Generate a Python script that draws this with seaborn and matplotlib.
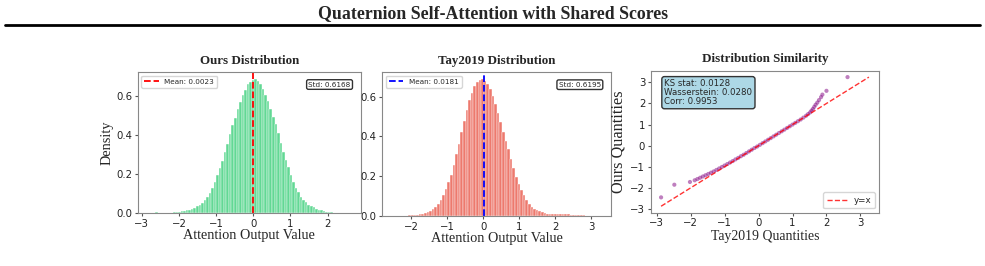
import numpy as np
import pandas as pd
import seaborn as sns
import matplotlib.pyplot as plt
from matplotlib.lines import Line2D
from matplotlib.ticker import MultipleLocator

# histogram densities (80 equal bins over each range)
ours_range = (-2.84, 2.62)
ours_density = [
    0.003, 0.004, 0.004, 0.005, 0.004, 0.004, 0.003, 0.003, 0.003, 0.004,
    0.005, 0.006, 0.008, 0.010, 0.012, 0.015, 0.019, 0.024, 0.029, 0.036,
    0.044, 0.055, 0.067, 0.084, 0.105, 0.130, 0.158, 0.194, 0.232, 0.270,
    0.312, 0.357, 0.405, 0.450, 0.490, 0.535, 0.570, 0.606, 0.633, 0.660,
    0.674, 0.682, 0.687, 0.678, 0.660, 0.636, 0.608, 0.573, 0.535, 0.495,
    0.455, 0.410, 0.362, 0.316, 0.275, 0.235, 0.197, 0.160, 0.130, 0.107,
    0.085, 0.069, 0.056, 0.045, 0.037, 0.030, 0.024, 0.019, 0.015, 0.012,
    0.009, 0.007, 0.005, 0.004, 0.003, 0.002, 0.002, 0.001, 0.001, 0.001,
]
ours_mean = 0.0023
ours_std = 0.6168

tay_range = (-2.517, 3.267)
tay_density = [
    0.0005, 0.001, 0.001, 0.001, 0.002, 0.002, 0.003, 0.003, 0.004, 0.006,
    0.009, 0.012, 0.015, 0.020, 0.025, 0.033, 0.044, 0.060, 0.079, 0.103,
    0.134, 0.170, 0.207, 0.258, 0.310, 0.362, 0.420, 0.478, 0.532, 0.580,
    0.620, 0.652, 0.672, 0.683, 0.687, 0.679, 0.664, 0.637, 0.602, 0.560,
    0.518, 0.470, 0.420, 0.378, 0.334, 0.286, 0.240, 0.198, 0.163, 0.130,
    0.106, 0.080, 0.060, 0.047, 0.037, 0.030, 0.023, 0.018, 0.014, 0.011,
    0.009, 0.009, 0.009, 0.010, 0.010, 0.010, 0.009, 0.008, 0.007, 0.006,
    0.005, 0.004, 0.004, 0.003, 0.002, 0.002, 0.001, 0.001, 0.0005, 0.0003,
]
tay_mean = 0.0181
tay_std = 0.6195

# Q-Q points (Tay2019 quantile, Ours quantile)
tay_q = [
    -2.87, -2.48, -2.02, -1.88, -1.80, -1.72, -1.64, -1.56, -1.48, -1.40,
    -1.32, -1.24, -1.16, -1.08, -1.00, -0.92, -0.84, -0.76, -0.68, -0.60,
    -0.52, -0.44, -0.36, -0.28, -0.20, -0.12, -0.04, 0.04, 0.12, 0.20,
    0.28, 0.36, 0.44, 0.52, 0.60, 0.68, 0.76, 0.84, 0.92, 1.00,
    1.08, 1.16, 1.24, 1.32, 1.40, 1.46, 1.52, 1.56, 1.60, 1.64,
    1.68, 1.73, 1.78, 1.84, 1.88, 2.00, 2.62,
]
ours_q = [
    -2.45, -1.85, -1.72, -1.64, -1.58, -1.52, -1.46, -1.40, -1.34, -1.28,
    -1.22, -1.15, -1.08, -1.01, -0.94, -0.87, -0.80, -0.73, -0.65, -0.58,
    -0.50, -0.43, -0.35, -0.27, -0.19, -0.11, -0.04, 0.04, 0.12, 0.20,
    0.28, 0.36, 0.44, 0.52, 0.60, 0.68, 0.76, 0.84, 0.92, 1.00,
    1.08, 1.16, 1.24, 1.33, 1.42, 1.50, 1.58, 1.66, 1.74, 1.84,
    1.94, 2.04, 2.16, 2.30, 2.42, 2.60, 3.25,
]
stats_text = 'KS stat: 0.0128\nWasserstein: 0.0280\nCorr: 0.9953'

sns.set_style('white')
plt.rcParams['axes.edgecolor'] = '#888888'
plt.rcParams['xtick.bottom'] = True
plt.rcParams['ytick.left'] = True
plt.rcParams['xtick.color'] = '#555555'
plt.rcParams['ytick.color'] = '#555555'
plt.rcParams['xtick.labelcolor'] = '#222222'
plt.rcParams['ytick.labelcolor'] = '#222222'
plt.rcParams['xtick.major.size'] = 2.5
plt.rcParams['ytick.major.size'] = 2.5
plt.rcParams['xtick.major.pad'] = 1.5
plt.rcParams['ytick.major.pad'] = 1.5
plt.rcParams['xtick.labelsize'] = 7.3
plt.rcParams['ytick.labelsize'] = 7.3
plt.rcParams['font.family'] = ['DejaVu Sans']

SERIF = 'Liberation Serif'

fig = plt.figure(figsize=(9.85, 2.66), dpi=100)

fig.text(0.5, 0.948, 'Quaternion Self-Attention with Shared Scores',
         ha='center', va='center', fontsize=12.8, fontweight='bold', family=SERIF)
fig.add_artist(Line2D([0.005, 0.995], [0.905, 0.905], color='black', lw=2,
                      transform=fig.transFigure))

ax1 = fig.add_axes([0.1398, 0.198, 0.2264, 0.530])
ax2 = fig.add_axes([0.3881, 0.188, 0.2325, 0.540])
ax3 = fig.add_axes([0.6606, 0.2004, 0.2321, 0.534])


def draw_hist(ax, density, rng, color, mean, std, mean_color, title):
    n = len(density)
    edges = np.linspace(rng[0], rng[1], n + 1)
    df = pd.DataFrame({'value': (edges[:-1] + edges[1:]) / 2, 'density': density})
    sns.histplot(data=df, x='value', weights='density', bins=n, binrange=rng,
                 ax=ax, color=color, alpha=0.75, edgecolor='white', linewidth=0.3)
    ax.axvline(mean, color=mean_color, linestyle='--', linewidth=1.3,
               label=f'Mean: {mean:.4f}')
    ax.text(0.955, 0.935, f'Std: {std:.4f}', transform=ax.transAxes, ha='right',
            va='top', fontsize=5.2,
            bbox=dict(boxstyle='round,pad=0.25', facecolor='white', edgecolor='#333333'))
    ax.legend(loc='upper left', fontsize=5.2, handlelength=2.0, borderpad=0.4)
    ax.set_title(title, fontsize=9.4, fontweight='bold', family=SERIF, pad=6)
    ax.set_xlabel('Attention Output Value', fontsize=10.3, family=SERIF, labelpad=0)


draw_hist(ax1, ours_density, ours_range, '#2ecc71', ours_mean, ours_std, 'red',
          'Ours Distribution')
ax1.set_ylabel('Density', fontsize=10.3, family=SERIF, labelpad=1.5)
draw_hist(ax2, tay_density, tay_range, '#e74c3c', tay_mean, tay_std, 'blue',
          'Tay2019 Distribution')
ax2.set_ylabel('')

sns.scatterplot(x=tay_q, y=ours_q, ax=ax3, color='purple', s=9, alpha=0.5,
                edgecolor='none')
lo = min(min(tay_q), min(ours_q))
hi = max(max(tay_q), max(ours_q))
ax3.plot([lo, hi], [lo, hi], color='red', linestyle='--', linewidth=1.0,
         alpha=0.8, label='y=x')
ax3.text(0.06, 0.94, stats_text, transform=ax3.transAxes, ha='left', va='top',
         fontsize=6.2, linespacing=1.0,
         bbox=dict(boxstyle='round,pad=0.3', facecolor='lightblue', edgecolor='#333333'))
ax3.legend(loc='lower right', fontsize=6.3, handlelength=2.3)
ax3.xaxis.set_major_locator(MultipleLocator(1))
ax3.yaxis.set_major_locator(MultipleLocator(1))
ax3.set_title('Distribution Similarity', fontsize=9.4, fontweight='bold',
              family=SERIF, pad=6)
ax3.set_xlabel('Tay2019 Quantities', fontsize=9.9, family=SERIF, labelpad=1)
ax3.set_ylabel('Ours Quantities', fontsize=11.7, family=SERIF, labelpad=3)

fig.savefig('out.png', dpi=100)
plt.close(fig)
